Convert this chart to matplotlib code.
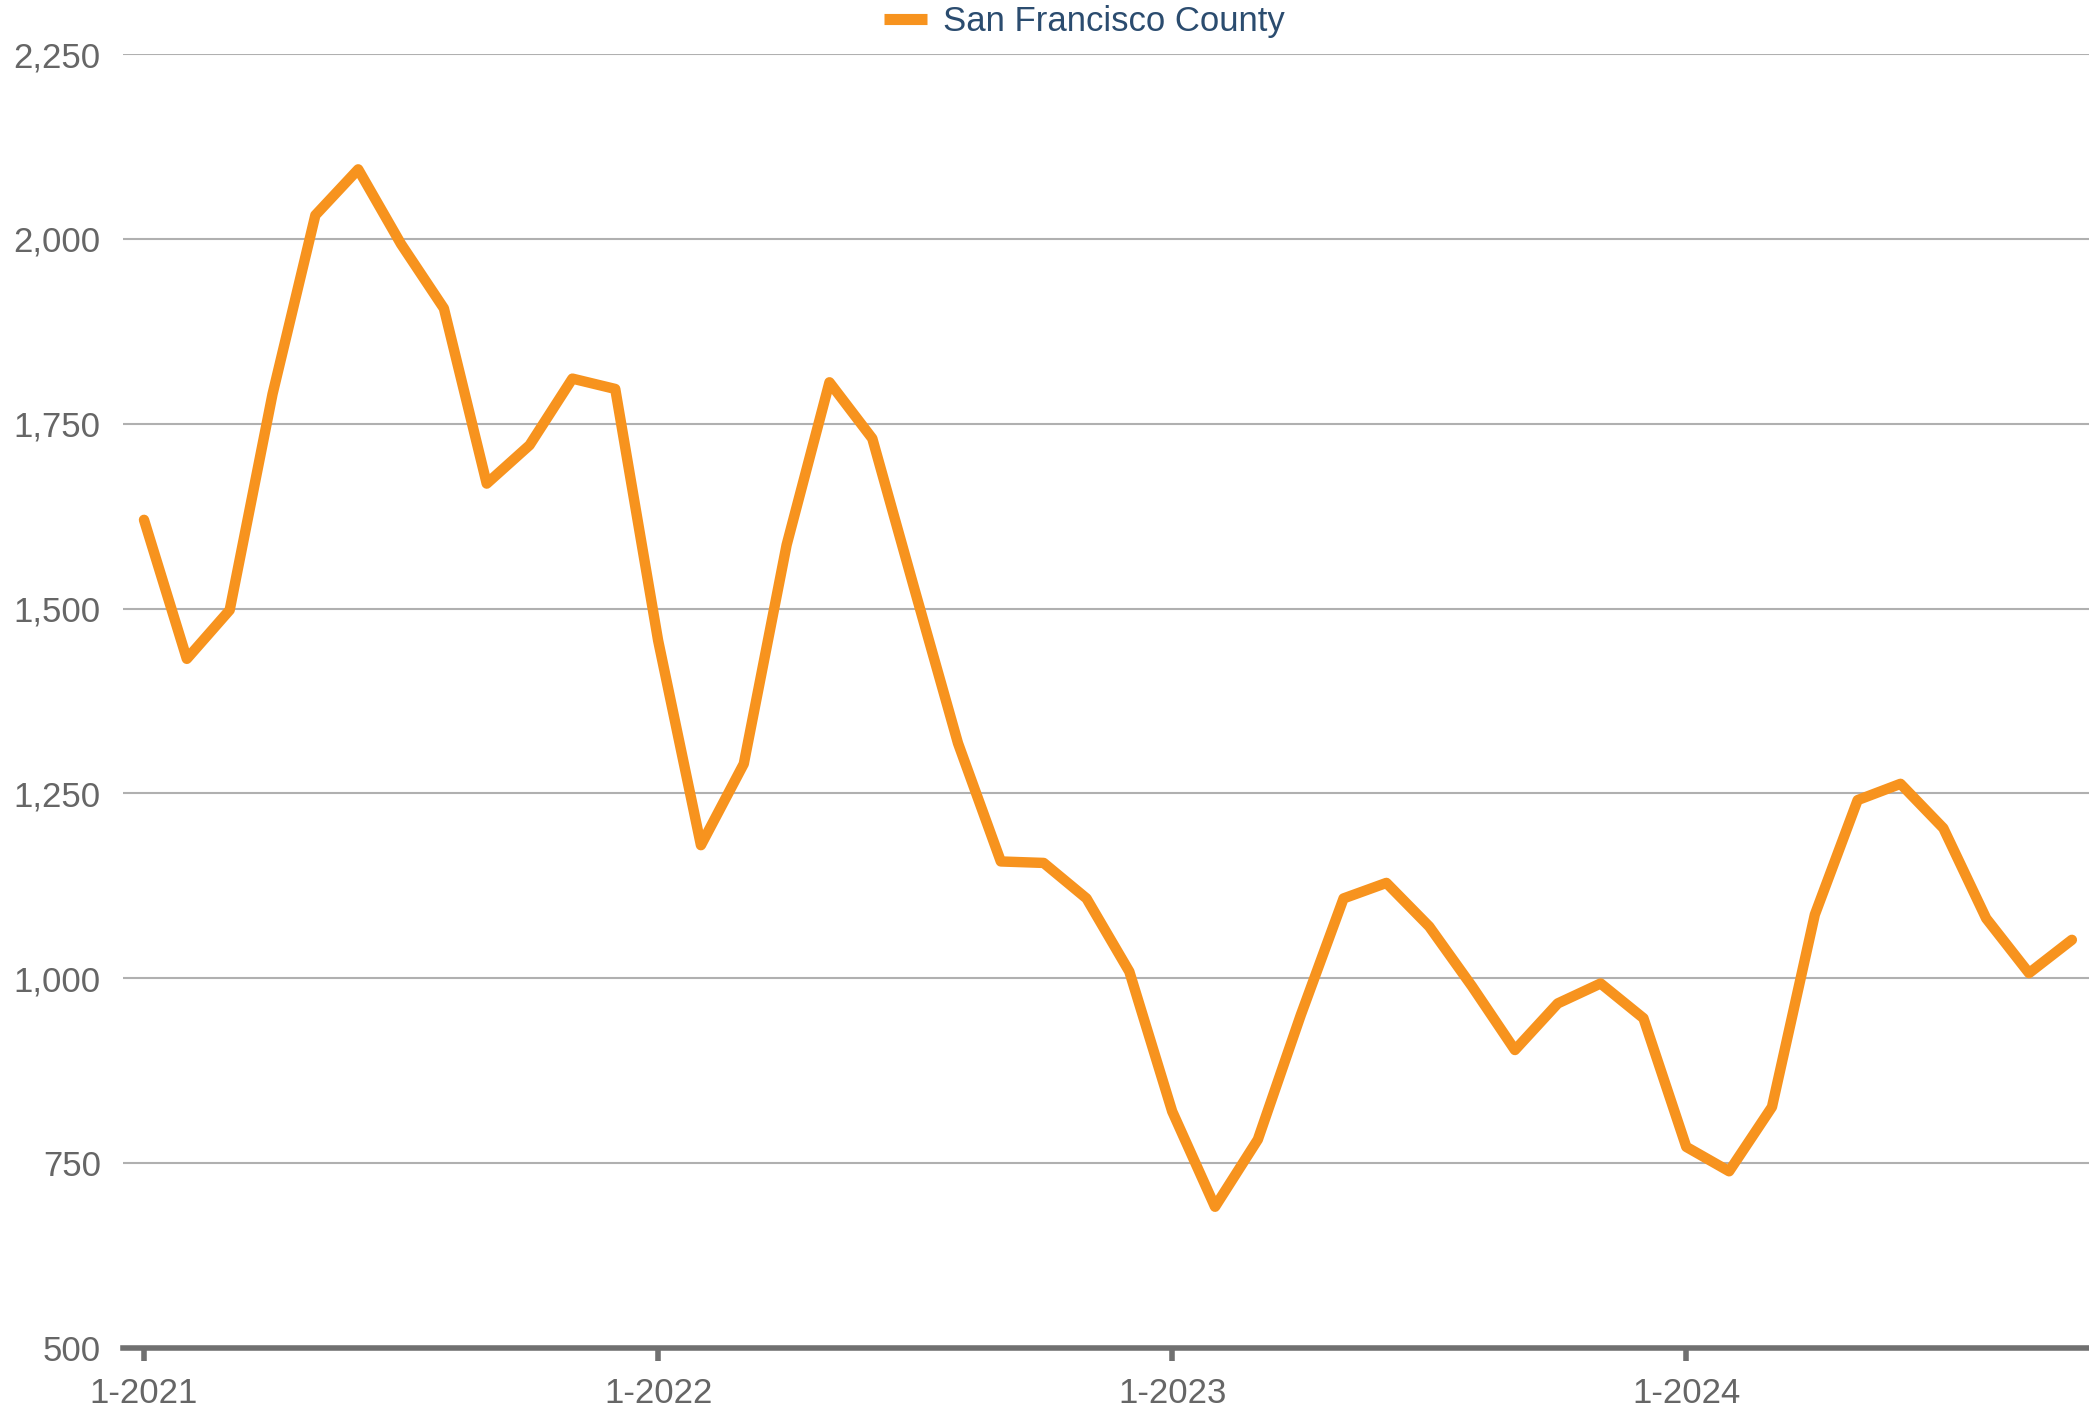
import matplotlib
matplotlib.use("Agg")
import matplotlib.pyplot as plt
from matplotlib.ticker import FuncFormatter

plt.rcParams['font.family'] = ['Liberation Sans', 'DejaVu Sans']

series_name = "San Francisco County"
months = list(range(46))  # Jan 2021 .. Oct 2024
values = [1620, 1432, 1498, 1790, 2032, 2094, 1993, 1906, 1669, 1721, 1811, 1797,
          1457, 1180, 1290, 1586, 1806, 1730, 1523, 1318, 1158, 1156, 1108, 1009,
          820, 691, 782, 950, 1108, 1129, 1070, 989, 903, 966, 993, 946,
          772, 739, 826, 1086, 1241, 1263, 1203, 1081, 1007, 1052]
xtick_pos = [0, 12, 24, 36]
xtick_labels = ["1-2021", "1-2022", "1-2023", "1-2024"]
yticks = [500, 750, 1000, 1250, 1500, 1750, 2000, 2250]

fig = plt.figure(figsize=(20.89, 14.08), dpi=100)
ax = fig.add_axes([123/2089, 1-1348/1408, 1-123/2089, (1348-54)/1408])

ax.plot(months, values, color='#F7931E', lw=7.5, solid_joinstyle='round',
        solid_capstyle='round', label=series_name, clip_on=False, zorder=3)

ax.set_xlim(-0.49, 45.4)
ax.set_ylim(500, 2250)
ax.set_yticks(yticks)
ax.yaxis.set_major_formatter(FuncFormatter(lambda v, p: f"{int(v):,}"))
ax.set_xticks(xtick_pos)
ax.set_xticklabels(xtick_labels)

for s in ['top', 'right', 'left']:
    ax.spines[s].set_visible(False)
ax.spines['bottom'].set_color('#707070')
ax.spines['bottom'].set_linewidth(4)
ax.spines['bottom'].set_zorder(4)

ax.grid(axis='y', color='#b0b0b0', lw=1.5)
ax.set_axisbelow(True)
ax.tick_params(axis='y', length=0, pad=16, labelsize=25, labelcolor='#666666')
ax.tick_params(axis='x', length=9, width=4, color='#707070', pad=12,
               labelsize=25, labelcolor='#666666')

leg = ax.legend(loc='center', bbox_to_anchor=(0.519, (1408-22)/1408), bbox_transform=fig.transFigure,
                frameon=False, fontsize=25, handlelength=1.25, handletextpad=0.45)
for t in leg.get_texts():
    t.set_color('#2b4c6f')
for h in leg.get_lines():
    h.set_linewidth(8)
    h.set_solid_capstyle('butt')

fig.savefig("out.png", dpi=100)
